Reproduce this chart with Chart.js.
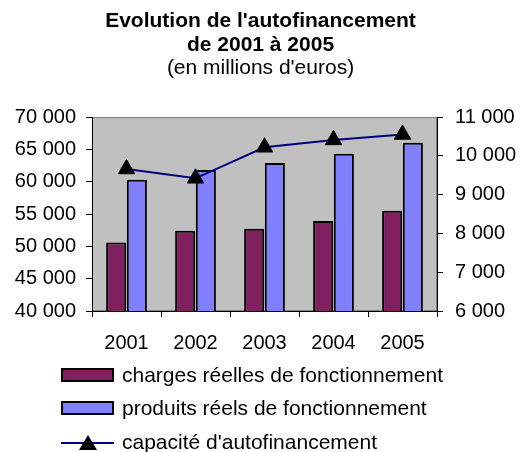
<!DOCTYPE html>
<html>
<head>
<meta charset="utf-8">
<script src="https://cdn.jsdelivr.net/npm/chart.js@4"></script>
<style>
  body { margin: 0; background: #fff; }
  #wrap { position: relative; width: 521px; height: 452px; }
  .leg { position: absolute; font: 21px 'Liberation Sans', Arial, sans-serif; color: #000; line-height: 24px; white-space: nowrap; }
  .box { position: absolute; left: 61px; width: 49px; height: 10px; border: 2px solid #000; }
</style>
</head>
<body>
<div id="wrap">
  <canvas id="chart" width="521" height="452"></canvas>
  <div class="box" style="top:368px;background:#80205F"></div>
  <div class="leg" style="left:122px;top:363px">charges réelles de fonctionnement</div>
  <div class="box" style="top:401px;background:#8080FF"></div>
  <div class="leg" style="left:122px;top:396px">produits réels de fonctionnement</div>
  <div style="position:absolute;left:61px;top:442px;width:53px;height:2px;background:#000080"></div>
  <div style="position:absolute;left:79px;top:435px;width:0;height:0;border-left:9px solid transparent;border-right:9px solid transparent;border-bottom:15px solid #000"></div>
  <div class="leg" style="left:122px;top:430px">capacité d'autofinancement</div>
</div>
<script>
const categories = ['2001', '2002', '2003', '2004', '2005'];
const charges = [50600, 52400, 52700, 53900, 55500];
const produits = [60300, 61800, 62900, 64300, 66000];
const capacite = [9660, 9420, 10220, 10410, 10550];

function fmt(v) {
    return String(v).replace(/\B(?=(\d{3})+(?!\d))/g, ' ');
}

Chart.defaults.font.family = "'Liberation Sans', Arial, sans-serif";
Chart.defaults.font.size = 20;
Chart.defaults.color = '#000';

const plotBg = {
    id: 'plotBg',
    beforeDraw(chart) {
        const a = chart.chartArea;
        const c = chart.ctx;
        c.save();
        c.fillStyle = '#C0C0C0';
        c.fillRect(a.left, a.top, a.width, a.height);
        c.strokeStyle = '#808080';
        c.lineWidth = 1;
        c.strokeRect(a.left + 0.5, a.top + 0.5, a.width - 1, a.height - 1);
        c.restore();
    }
};

const ctx = document.getElementById('chart');
new Chart(ctx, {
    type: 'bar',
    data: {
        labels: categories,
        datasets: [{
            type: 'line',
            label: "capacité d'autofinancement",
            data: capacite,
            yAxisID: 'y1',
            borderColor: '#000080',
            borderWidth: 2,
            pointStyle: 'triangle',
            pointRadius: 9.5,
            pointBackgroundColor: '#000',
            pointBorderColor: '#000',
            pointBorderWidth: 1,
            tension: 0,
            order: 0
        }, {
            label: 'charges réelles de fonctionnement',
            data: charges,
            yAxisID: 'y',
            backgroundColor: '#80205F',
            borderColor: '#000',
            borderWidth: 2,
            borderSkipped: 'bottom',
            categoryPercentage: 0.6,
            barPercentage: 0.97,
            order: 1
        }, {
            label: 'produits réels de fonctionnement',
            data: produits,
            yAxisID: 'y',
            backgroundColor: '#8080FF',
            borderColor: '#000',
            borderWidth: 2,
            borderSkipped: 'bottom',
            categoryPercentage: 0.6,
            barPercentage: 0.97,
            order: 1
        }]
    },
    options: {
        responsive: false,
        animation: false,
        layout: { padding: 0 },
        plugins: {
            legend: { display: false },
            tooltip: { enabled: false },
            title: {
                display: true,
                text: ["Evolution de l'autofinancement", 'de 2001 à 2005'],
                font: { size: 21, weight: 'bold', lineHeight: '24px' },
                padding: { top: 9, bottom: 0 }
            },
            subtitle: {
                display: true,
                text: "(en millions d'euros)",
                font: { size: 21, lineHeight: '20px' },
                color: '#000',
                padding: { top: 1, bottom: 39 }
            }
        },
        scales: {
            x: {
                offset: true,
                grid: { offset: true, drawOnChartArea: false, drawTicks: true, tickLength: 6, color: '#000' },
                border: { color: '#000', width: 1 },
                ticks: { padding: 14, maxRotation: 0 },
                afterFit(s) { s.height = 141; }
            },
            y: {
                position: 'left',
                min: 40000,
                max: 70000,
                grid: { drawOnChartArea: false, drawTicks: true, tickLength: 6, color: '#000' },
                border: { color: '#000', width: 1 },
                ticks: { stepSize: 5000, padding: 10, callback: v => fmt(v) },
                afterFit(s) { s.width = 92; }
            },
            y1: {
                position: 'right',
                min: 6000,
                max: 11000,
                grid: { drawOnChartArea: false, drawTicks: true, tickLength: 6, color: '#000' },
                border: { color: '#000', width: 1 },
                ticks: { stepSize: 1000, padding: 12, callback: v => fmt(v) },
                afterFit(s) { s.width = 84; }
            }
        }
    },
    plugins: [plotBg]
});
</script>
</body>
</html>
